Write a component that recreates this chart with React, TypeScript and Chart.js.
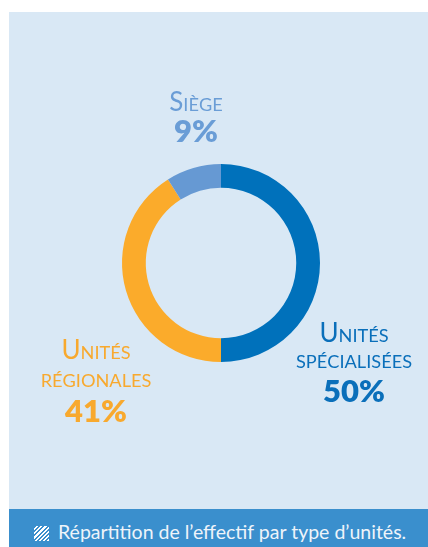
import React, { useEffect, useRef } from "react";
import { Chart, registerables } from "chart.js";

Chart.register(...registerables);

const categories = ["Unités spécialisées", "Unités régionales", "Siège"];
const values = [50, 41, 9];
const percentLabels = ["50%", "41%", "9%"];
const sliceColors = ["#0071bb", "#fbab2b", "#6699d3"];
const textColors = ["#0a6fba", "#f8a92e", "#6a9dd6"];
const caption = "Répartition de l’effectif par type d’unités.";

// label placement (canvas coordinates): center x, baselines of name lines, baseline of percent
const labelLayout = [
  { x: 345, lines: [330, 356], pct: 390 },
  { x: 87, lines: [347, 375], pct: 410 },
  { x: 187, lines: [99], pct: 130 },
];

const FONT = "Lato, 'Open Sans', sans-serif";
const NAME_SIZE = 26;
const SMALL_RATIO = 0.7;
const PCT_SIZE = 31;

function drawSmallCaps(ctx: CanvasRenderingContext2D, text: string, cx: number, baseline: number, size: number, color: string) {
  const segs: { t: string; s: number }[] = [];
  for (const ch of text) {
    const isUpper = ch === ch.toUpperCase() && ch !== ch.toLowerCase();
    segs.push({ t: ch.toUpperCase(), s: isUpper ? size : size * SMALL_RATIO });
  }
  let total = 0;
  const widths: number[] = [];
  for (const sg of segs) {
    ctx.font = `400 ${sg.s}px ${FONT}`;
    const w = ctx.measureText(sg.t).width;
    widths.push(w);
    total += w;
  }
  let x = cx - total / 2;
  ctx.fillStyle = color;
  ctx.textAlign = "left";
  ctx.textBaseline = "alphabetic";
  segs.forEach((sg, i) => {
    ctx.font = `400 ${sg.s}px ${FONT}`;
    ctx.fillText(sg.t, x, baseline);
    x += widths[i];
  });
}

const labelPlugin = {
  id: "sliceLabels",
  afterDraw(chart: any) {
    const ctx = chart.ctx as CanvasRenderingContext2D;
    ctx.save();
    categories.forEach((cat, i) => {
      const lay = labelLayout[i];
      const words = cat.split(" ");
      words.forEach((w, j) => {
        drawSmallCaps(ctx, w, lay.x, lay.lines[j], NAME_SIZE, textColors[i]);
      });
      ctx.font = `800 ${PCT_SIZE}px ${FONT}`;
      ctx.fillStyle = textColors[i];
      ctx.textAlign = "center";
      ctx.textBaseline = "alphabetic";
      ctx.fillText(percentLabels[i], lay.x, lay.pct);
    });
    ctx.restore();
  },
};

export default function App() {
  const ref = useRef<HTMLCanvasElement | null>(null);
  useEffect(() => {
    if (!ref.current) return;
    const chart = new Chart(ref.current, {
      type: "doughnut",
      data: {
        labels: categories,
        datasets: [
          {
            data: values,
            backgroundColor: sliceColors,
            borderWidth: 0,
            hoverOffset: 0,
          },
        ],
      },
      options: {
        responsive: false,
        animation: false,
        cutout: "76%",
        layout: { padding: { left: 113, right: 108, top: 152, bottom: 147 } },
        plugins: { legend: { display: false }, tooltip: { enabled: false } },
      },
      plugins: [labelPlugin],
    });
    return () => chart.destroy();
  }, []);

  return (
    <div style={{ position: "fixed", left: 0, top: 0, width: 428, height: 547, background: "#ffffff", overflow: "hidden" }}>
      <div style={{ position: "absolute", left: 9, top: 12, width: 419, height: 497, background: "#d9e8f5" }}>
        <canvas ref={ref} width={419} height={497} style={{ display: "block" }} />
      </div>
      <div
        style={{
          position: "absolute",
          left: 9,
          top: 509,
          width: 419,
          height: 38,
          background: "#3a8fcd",
          color: "#eef4fa",
          fontFamily: FONT,
          fontSize: 19.5,
        }}
      >
        <div
          style={{
            position: "absolute",
            left: 25,
            top: 17,
            width: 15,
            height: 15,
            background: "repeating-linear-gradient(-45deg, #ffffff 0px, #ffffff 1.5px, transparent 1.5px, transparent 3px)",
          }}
        />
        <div style={{ position: "absolute", left: 49, top: 13, whiteSpace: "nowrap", lineHeight: "20px" }}>{caption}</div>
      </div>
    </div>
  );
}
